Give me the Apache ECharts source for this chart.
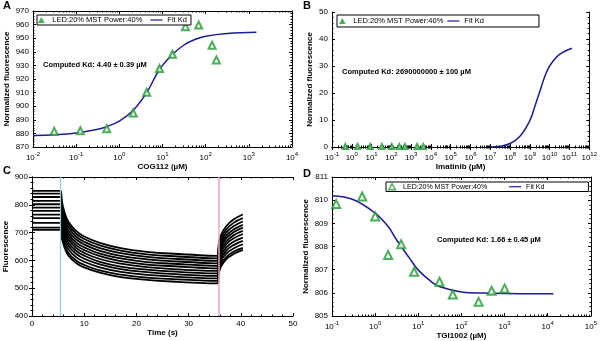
<!DOCTYPE html>
<html>
<head>
<meta charset="utf-8">
<script src="https://cdn.jsdelivr.net/npm/echarts@6/dist/echarts.min.js"></script>
<style>
html, body { margin: 0; padding: 0; background: #fff; }
#chart { width: 600px; height: 341px; }
</style>
</head>
<body>
<div id="chart"></div>
<script>
// A: COG112
var cogConc = [0.031, 0.125, 0.51, 2.1, 4.3, 8.5, 17, 34, 69, 141, 177];
var cogSignal = [881.5, 882, 883.4, 895, 910.3, 927.7, 938.2, 958.5, 959.7, 944.8, 934];
var cogFitConc = [0.01, 0.0316, 0.1, 0.316, 0.51, 1, 2.1, 4.3, 8.5, 17, 31.6, 56, 100, 316, 1500];
var cogFitSignal = [878.5, 879, 880.3, 883, 885, 889, 897, 910, 927, 938, 945, 949, 951.5, 953.5, 954.3];

// B: Imatinib
var imaConc = [0.47, 1.95, 8.5, 33, 105, 250, 490, 2000, 4100];
var imaSignal = [0.2, 0.2, 0.2, 0.2, 0.2, 0.2, 0.2, 0.2, 0.2];
var imaFitConc = [1e7, 3.16e7, 1e8, 3.16e8, 1e9, 1.78e9, 3.16e9, 5.62e9, 1e10, 3.16e10, 1.35e11];
var imaFitSignal = [0, 0.3, 1.3, 4, 9.8, 15, 20.5, 26, 30, 34.3, 36.6];

// C: MST time traces
var traceTime = [0, 5.5, 5.7, 6.2, 7, 8.5, 10, 13, 17, 22, 28, 35.5, 35.8, 36.2, 37.2, 38.6, 40.4];
var traces = [
    [850, 850, 815, 775, 738, 705, 686, 663, 644, 631, 623, 616, 661, 691, 723, 747, 765],
    [840, 840, 805, 765, 728, 696, 677, 654, 635, 622, 614, 607, 651, 680, 711, 735, 752],
    [828, 828, 794, 754, 718, 685, 667, 644, 626, 613, 605, 598, 641, 669, 700, 723, 740],
    [814, 814, 780, 742, 706, 675, 657, 634, 616, 604, 596, 589, 631, 659, 689, 711, 728],
    [802, 802, 769, 731, 695, 664, 647, 624, 607, 594, 587, 580, 621, 649, 679, 701, 718],
    [790, 790, 757, 720, 685, 654, 637, 615, 597, 585, 578, 571, 612, 639, 668, 690, 706],
    [778, 778, 746, 709, 674, 644, 627, 605, 588, 576, 568, 562, 602, 629, 658, 679, 695],
    [765, 765, 733, 697, 663, 634, 617, 595, 578, 567, 559, 553, 592, 618, 646, 667, 682],
    [752, 752, 721, 685, 652, 623, 606, 586, 569, 558, 550, 544, 582, 607, 635, 655, 670],
    [735, 735, 705, 671, 639, 611, 595, 575, 559, 548, 541, 535, 572, 597, 624, 643, 658],
    [718, 718, 689, 657, 626, 599, 584, 564, 549, 538, 532, 526, 562, 586, 612, 631, 645],
    [710, 710, 681, 648, 617, 590, 575, 556, 540, 530, 523, 517, 553, 578, 604, 623, 638]
];
var irOn = 5.5, irOff = 35.7;

// D: TGI1002
var tgiConc = [0.125, 0.5, 1.0, 2.0, 4, 8, 31, 63, 250, 500, 1000];
var tgiSignal = [809.83, 810.16, 809.3, 807.63, 808.1, 806.91, 806.48, 805.93, 805.61, 806.09, 806.19];
var tgiFitConc = [0.1, 0.316, 1, 2, 3.16, 6.3, 10, 20, 31.6, 100, 316, 1000, 13500];
var tgiFitSignal = [810.19, 810.02, 809.44, 808.86, 808.28, 807.49, 806.98, 806.48, 806.26, 806.04, 805.99, 805.97, 805.96];

var FONT = '"Liberation Sans", Arial, sans-serif';
var GREEN = '#1f9a2e';
var NAVY = '#1c1c92';
var LED = 'LED:20% MST Power:40%';
var FIT = 'Fit Kd';
var TRI = 'path://M5,0 L10,9 L0,9 Z';
var BAR = 'path://M0,0 L20,0 L20,2 L0,2 Z';

function pairs(xs, ys) {
    var out = [];
    for (var i = 0; i < xs.length; ++i) {
        out.push([xs[i], ys[i]]);
    }
    return out;
}

function logLabel(v) {
    var e = Math.round(Math.log(v) / Math.LN10);
    return '{b|10}{s|' + e + '}';
}

var lineBlack = { lineStyle: { color: '#000', width: 1 } };

function xAxis(grid, type, min, max, interval, name, gap, mirror) {
    var ax = {
        gridIndex: grid,
        type: type,
        min: min,
        max: max,
        interval: interval,
        position: mirror ? 'top' : 'bottom',
        axisLine: lineBlack,
        axisTick: { inside: true, length: 3, lineStyle: { color: '#000' } },
        minorTick: { show: true, splitNumber: type == 'log' ? 9 : 5, length: 1.5, lineStyle: { color: '#000' } },
        splitLine: { show: false },
        axisLabel: { show: !mirror, color: '#000', fontFamily: FONT, fontSize: 8, margin: 4, interval: 0 }
    };
    if (type == 'log') {
        ax.logBase = 10;
        ax.axisLabel.formatter = logLabel;
        ax.axisLabel.rich = {
            b: { fontSize: 8, fontFamily: FONT, color: '#000' },
            s: { fontSize: 6, fontFamily: FONT, color: '#000', padding: [0, 0, 7, 0] }
        };
    }
    if (!mirror) {
        ax.name = name;
        ax.nameLocation = 'middle';
        ax.nameGap = gap;
        ax.nameTextStyle = { fontFamily: FONT, fontSize: 8, fontWeight: 'bold', color: '#000' };
    }
    return ax;
}

function yAxis(grid, min, max, interval, name, gap, mirror) {
    var ax = {
        gridIndex: grid,
        type: 'value',
        min: min,
        max: max,
        interval: interval,
        position: mirror ? 'right' : 'left',
        axisLine: lineBlack,
        axisTick: { inside: true, length: 3, lineStyle: { color: '#000' } },
        minorTick: { show: true, splitNumber: 5, length: 1.5, lineStyle: { color: '#000' } },
        splitLine: { show: false },
        axisLabel: { show: !mirror, color: '#000', fontFamily: FONT, fontSize: 8, margin: 4 }
    };
    if (!mirror) {
        ax.name = name;
        ax.nameLocation = 'middle';
        ax.nameGap = gap;
        ax.nameTextStyle = { fontFamily: FONT, fontSize: 8, fontWeight: 'bold', color: '#000' };
    }
    return ax;
}

function scatter(axis, data, size, border) {
    return {
        type: 'scatter',
        name: LED,
        xAxisIndex: axis,
        yAxisIndex: axis,
        symbol: 'emptyTriangle',
        symbolSize: size,
        itemStyle: { color: GREEN, borderColor: GREEN, borderWidth: border },
        data: data,
        z: 3
    };
}

function fit(axis, data) {
    return {
        type: 'line',
        name: FIT,
        xAxisIndex: axis,
        yAxisIndex: axis,
        smooth: 0.4,
        showSymbol: false,
        symbol: 'none',
        lineStyle: { color: NAVY, width: 1.5 },
        itemStyle: { color: NAVY },
        data: data,
        z: 2
    };
}

function legend(left, top, padding, gap, fontSize, hollow) {
    return {
        left: left,
        top: top,
        width: 260,
        padding: padding,
        itemGap: gap,
        itemWidth: 12,
        itemHeight: 6,
        symbolKeepAspect: true,
        borderColor: '#000',
        borderWidth: 1,
        borderRadius: 0,
        backgroundColor: '#fff',
        selectedMode: false,
        textStyle: { fontFamily: FONT, fontSize: fontSize, color: '#000' },
        data: [
            { name: LED, icon: TRI, itemStyle: hollow ?
                { color: '#fff', borderColor: GREEN, borderWidth: 1.5 } :
                { color: GREEN, borderWidth: 0 } },
            { name: FIT, icon: BAR, itemStyle: { color: NAVY, borderWidth: 0 } }
        ]
    };
}

function label(text, left, top, size) {
    return {
        type: 'text',
        left: left,
        top: top,
        style: { text: text, fill: '#000', font: 'bold ' + size + 'px ' + FONT }
    };
}

var series = [];
series.push(scatter(0, pairs(cogConc, cogSignal), 7, 2.5));
series.push(fit(0, pairs(cogFitConc, cogFitSignal)));
series.push(scatter(2, pairs(imaConc, imaSignal), 5, 2));
series.push(fit(2, pairs(imaFitConc, imaFitSignal)));
for (var k = 0; k < traces.length; ++k) {
    series.push({
        type: 'line',
        name: 'trace' + k,
        xAxisIndex: 4,
        yAxisIndex: 4,
        smooth: 0.45,
        showSymbol: false,
        symbol: 'none',
        lineStyle: { color: '#000', width: 1.8 },
        data: pairs(traceTime, traces[k]),
        markLine: k > 0 ? undefined : {
            silent: true,
            symbol: 'none',
            label: { show: false },
            data: [
                { xAxis: irOn, lineStyle: { color: '#8fcfe0', width: 1.2, type: 'solid' } },
                { xAxis: irOff, lineStyle: { color: '#f2a3bb', width: 1.5, type: 'solid' } }
            ]
        }
    });
}
series.push(scatter(6, pairs(tgiConc, tgiSignal), 8, 1.8));
series.push(fit(6, pairs(tgiFitConc, tgiFitSignal)));

var option = {
    animation: false,
    backgroundColor: '#fff',
    grid: [
        { left: 33, top: 11, width: 259, height: 136 },
        { left: 332, top: 12, width: 259, height: 135 },
        { left: 32, top: 177, width: 261, height: 139 },
        { left: 332, top: 177, width: 261, height: 139 }
    ],
    xAxis: [
        xAxis(0, 'log', 0.01, 10000, 1, 'COG112 (µM)', 16, false),
        xAxis(0, 'log', 0.01, 10000, 1, '', 0, true),
        xAxis(1, 'log', 0.1, 1e12, 1, 'Imatinib (µM)', 16, false),
        xAxis(1, 'log', 0.1, 1e12, 1, '', 0, true),
        xAxis(2, 'value', 0, 50, 10, 'Time (s)', 13, false),
        xAxis(2, 'value', 0, 50, 10, '', 0, true),
        xAxis(3, 'log', 0.1, 100000, 1, 'TGI1002 (µM)', 16, false),
        xAxis(3, 'log', 0.1, 100000, 1, '', 0, true)
    ],
    yAxis: [
        yAxis(0, 870, 970, 10, 'Normalized fluorescence', 22, false),
        yAxis(0, 870, 970, 10, '', 0, true),
        yAxis(1, 0, 50, 10, 'Normalized fluorescence', 18, false),
        yAxis(1, 0, 50, 10, '', 0, true),
        yAxis(2, 400, 900, 100, 'Fluorescence', 22, false),
        yAxis(2, 400, 900, 100, '', 0, true),
        yAxis(3, 805, 811, 1, 'Normalized fluorescence', 22, false),
        yAxis(3, 805, 811, 1, '', 0, true)
    ],
    legend: [
        legend(37, 15, [1, 4, 1, 1], 8, 7.5, false),
        legend(337, 15, [2, 55, 2, 2], 4, 7.5, false),
        legend(386, 182, [1, 44, 1, 2], 22, 7, true)
    ],
    graphic: [
        label('A', 3, 0, 11),
        label('B', 303, 0, 11),
        label('C', 3, 165, 11),
        label('D', 303, 168, 11),
        label('Computed Kd: 4.40 ± 0.39 µM', 43, 61, 7.5),
        label('Computed Kd: 2690000000 ± 100 µM', 342, 68, 7.5),
        label('Computed Kd: 1.66 ± 0.45 µM', 437, 236, 7.5)
    ],
    series: series
};

echarts.init(document.getElementById('chart'), null, { renderer: 'canvas' }).setOption(option);
</script>
</body>
</html>
